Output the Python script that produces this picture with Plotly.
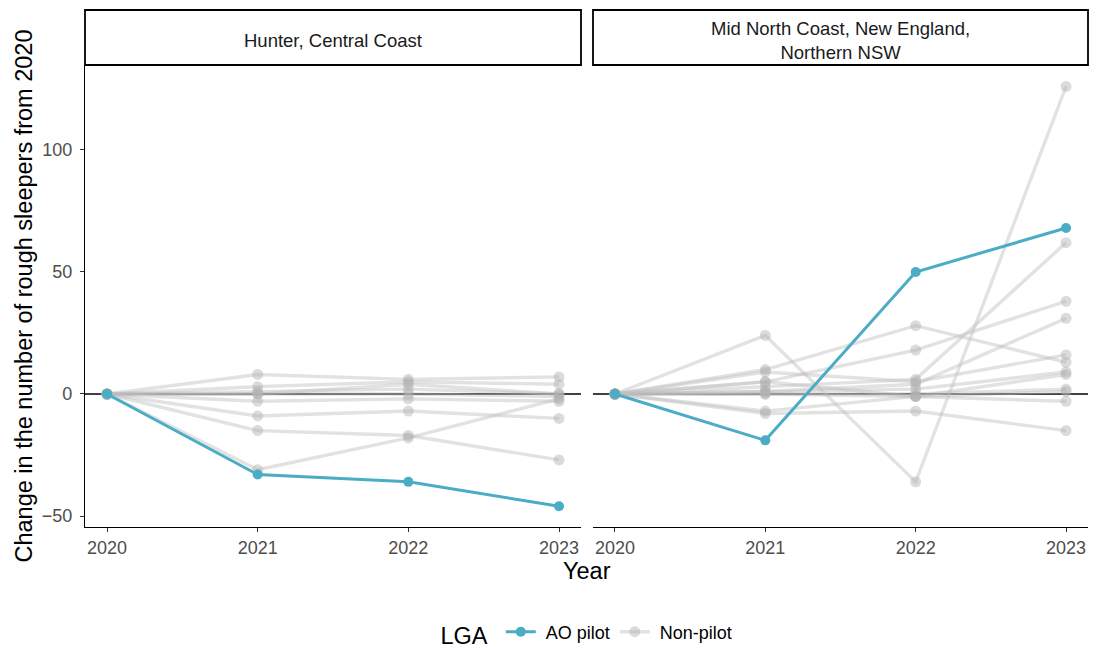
import plotly.graph_objects as go
from plotly.subplots import make_subplots

years = [2020, 2021, 2022, 2023]
panel_titles = ["Hunter, Central Coast", "Mid North Coast, New England,<br>Northern NSW"]

hunter_pilot = [0, -33, -36, -46]
hunter_nonpilot = [
    [0, 8, 6, 7],
    [0, 3, 5, 4],
    [0, 1, 2, 0],
    [0, 0, 0, -1],
    [0, 0, 4, 0],
    [0, -3, -2, -3],
    [0, -9, -7, -10],
    [0, -15, -17, -27],
    [0, -31, -18, -2],
]

north_pilot = [0, -19, 50, 68]
north_nonpilot = [
    [0, 24, -36, 126],
    [0, 10, 28, 13],
    [0, 5, 18, 38],
    [0, 3, 6, 62],
    [0, 1, 4, 31],
    [0, 9, 5, 16],
    [0, -8, -7, -15],
    [0, -7, -1, -3],
    [0, 0, 0, 2],
    [0, 1, 2, 9],
    [0, 0, -1, 1],
    [0, 5, -1, 8],
]

BLUE = "#4BACC6"
GRAY_LINE = "rgba(190,190,190,0.45)"
GRAY_MARK = "rgba(175,175,175,0.45)"
FONT = "Liberation Sans, Arial, sans-serif"
TICK_SIZE = 18
TITLE_SIZE = 23.5

fig = make_subplots(rows=1, cols=2, shared_yaxes=True, horizontal_spacing=0.012)

panels = [(hunter_nonpilot, hunter_pilot), (north_nonpilot, north_pilot)]
shown_gray = False
shown_blue = False
for col, (nonpilot, pilot) in enumerate(panels, start=1):
    for s in nonpilot:
        fig.add_trace(go.Scatter(
            x=years, y=s, mode="lines+markers",
            line=dict(color=GRAY_LINE, width=3.4),
            marker=dict(color=GRAY_MARK, size=11),
            name="\u00a0Non-pilot", legendgroup="np", showlegend=not shown_gray,
            legendrank=2,
        ), row=1, col=col)
        shown_gray = True
    fig.add_trace(go.Scatter(
        x=years, y=pilot, mode="lines+markers",
        line=dict(color=BLUE, width=3),
        marker=dict(color=BLUE, size=10),
        name="\u00a0AO pilot", legendgroup="ao", showlegend=not shown_blue,
        legendrank=1,
    ), row=1, col=col)
    shown_blue = True

# zero reference lines
for xref in ["x domain", "x2 domain"]:
    fig.add_shape(type="line", xref=xref, yref="y", x0=0, x1=1, y0=0, y1=0,
                  line=dict(color="black", width=1.3), layer="below")

# strip boxes and labels
L, R, T, B = 85, 9, 65, 123
W, H = 1097, 650
pw = W - L - R
ph = H - T - B
dom1 = [0, (581 - L) / pw]
dom2 = [(593 - L) / pw, 1]
strip_top = 1 + (T - 10) / ph
for dom, title in zip([dom1, dom2], panel_titles):
    fig.add_shape(type="rect", xref="paper", yref="paper",
                  x0=dom[0], x1=dom[1], y0=1, y1=strip_top,
                  line=dict(color="black", width=1.8), fillcolor="white")
    fig.add_annotation(xref="paper", yref="paper", x=(dom[0] + dom[1]) / 2,
                       y=(1 + strip_top) / 2 - 3 / ph, text=title, showarrow=False,
                       font=dict(family=FONT, size=18.5, color="#1A1A1A"),
                       xanchor="center", yanchor="middle")

xr = [2020 - 22 / 150.67, 2023 + 22 / 150.67]
common_x = dict(range=xr, tickvals=years, ticktext=[str(y) for y in years],
                showline=True, linecolor="black", linewidth=1.3,
                ticks="outside", ticklen=4, tickcolor="#333333", tickwidth=1,
                showgrid=False, zeroline=False,
                tickfont=dict(family=FONT, size=TICK_SIZE, color="#4D4D4D"))
fig.update_xaxes(**common_x)
fig.update_layout(xaxis=dict(domain=dom1), xaxis2=dict(domain=dom2))

fig.update_yaxes(range=[-54.5, 134.8], tickvals=[-50, 0, 50, 100],
                 showgrid=False, zeroline=False,
                 tickfont=dict(family=FONT, size=TICK_SIZE, color="#4D4D4D"))
fig.update_layout(
    yaxis=dict(showline=True, linecolor="black", linewidth=1.3,
               ticks="outside", ticklen=4, tickcolor="#333333",
               ticklabelstandoff=4,
               title=dict(text="Change in the number of rough sleepers from 2020",
                          font=dict(family=FONT, size=TITLE_SIZE, color="black"), standoff=2)),
    yaxis2=dict(showline=False, ticks="", showticklabels=False),
)

fig.add_annotation(xref="paper", yref="paper", x=0.5, y=-(571 - 527) / ph,
                   text="Year", showarrow=False, xanchor="center", yanchor="middle",
                   font=dict(family=FONT, size=TITLE_SIZE, color="black"))

fig.update_layout(
    width=W, height=H,
    margin=dict(l=L, r=R, t=T, b=B, autoexpand=False),
    paper_bgcolor="white", plot_bgcolor="white",
    font=dict(family=FONT),
    legend=dict(orientation="h", x=(588 - L) / pw, xanchor="center",
                y=-(634 - 527) / ph, yanchor="middle",
                title=dict(text="LGA ", font=dict(family=FONT, size=TITLE_SIZE, color="black")),
                font=dict(family=FONT, size=TICK_SIZE, color="black"),
                traceorder="normal", itemwidth=30),
)

fig.write_html("out.html", config={"displayModeBar": False},
               post_script="document.body.style.margin='0px';")
